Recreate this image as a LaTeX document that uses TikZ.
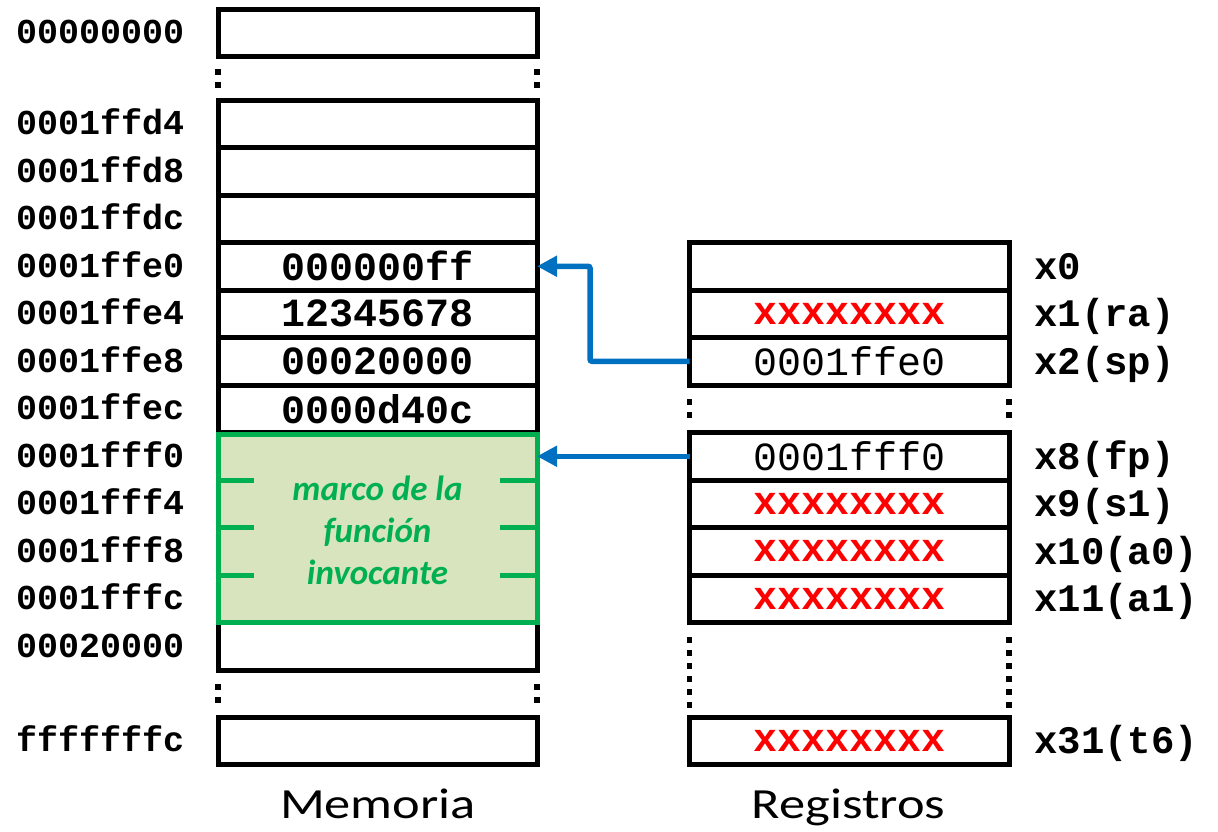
\documentclass[tikz,border=0pt]{standalone}
\usepackage{fontspec}
\setmainfont{Carlito}
\newfontfamily\monof{Liberation Mono}
\usetikzlibrary{arrows.meta,calc}
\definecolor{frgreen}{HTML}{00B050}
\definecolor{frfill}{HTML}{D7E4BD}
\definecolor{arblue}{HTML}{0070C0}
\definecolor{xred}{HTML}{FF0000}
\begin{document}
\begin{tikzpicture}[x=1pt,y=-1pt,
  memcell/.style={draw, line width=5pt, minimum width=319pt, minimum height=47.5pt, inner sep=0pt, outer sep=0pt},
  memslot/.style={minimum width=319pt, minimum height=47.5pt, inner sep=0pt, outer sep=0pt},
  regcell/.style={draw, line width=5pt, minimum width=319.5pt, minimum height=47.5pt, inner sep=0pt, outer sep=0pt},
  memval/.style={font=\monof\bfseries\fontsize{40}{48}\selectfont},
  regval/.style={font=\monof\fontsize{40}{48}\selectfont},
  xval/.style={font=\monof\bfseries\fontsize{40}{48}\selectfont, text=xred},
  addr/.style={anchor=base west, inner sep=0pt, font=\monof\bfseries\fontsize{35}{42}\selectfont},
  reglab/.style={anchor=base west, inner sep=0pt, font=\monof\bfseries\fontsize{39}{46}\selectfont},
  dots/.style={line width=5.5pt, dash pattern=on 6pt off 7pt},
  tick/.style={draw=frgreen, line width=5pt},
  pointer/.style={draw=arblue, line width=5.5pt, rounded corners=2pt, -{Triangle[length=20pt,width=20pt]}},
  title/.style={anchor=base, inner sep=0pt, font=\fontsize{43}{50}\selectfont}
]
\useasboundingbox (0,0) rectangle (1218,831);

% memory cells
\node[memcell] (m0) at (377.5,32.75) {};
\node[memcell] (ffd4) at (377.5,123.75) {};
\node[memcell] (ffd8) at (377.5,171.25) {};
\node[memcell] (ffdc) at (377.5,218.75) {};
\node[memcell,memval] (ffe0) at (377.5,266.25) {000000ff};
\node[memcell,memval] (ffe4) at (377.5,313.75) {12345678};
\node[memcell,memval] (ffe8) at (377.5,361.25) {00020000};
\node[memcell,memval] (ffec) at (377.5,408.75) {0000d40c};
\node[memslot] (fff0) at (377.5,456.25) {};
\node[memslot] (fff4) at (377.5,503.75) {};
\node[memslot] (fff8) at (377.5,551.25) {};
\node[memslot] (fffc) at (377.5,598.75) {};
\node[memcell] (m20000) at (377.5,646.25) {};
\node[memcell] (mlast) at (377.5,740.75) {};

% memory gaps
\draw[dots] ($(m0.south west)+(0,12.5)$) -- ($(ffd4.north west)+(0,-11)$);
\draw[dots] ($(m0.south east)+(0,12.5)$) -- ($(ffd4.north east)+(0,-11)$);
\draw[dots] ($(m20000.south west)+(0,14)$) -- ($(mlast.north west)+(0,-14)$);
\draw[dots] ($(m20000.south east)+(0,14)$) -- ($(mlast.north east)+(0,-14)$);

% caller frame
\draw[draw=frgreen, fill=frfill, line width=5pt] ($(fff0.north west)+(0,2)$) rectangle (fffc.south east);
\foreach \r in {fff0,fff4,fff8}{
  \draw[tick] (\r.south west) -- +(36,0);
  \draw[tick] (\r.south east) -- +(-37,0);
}
\node[align=center, text=frgreen, inner sep=0pt, font=\bfseries\itshape\fontsize{35}{42}\selectfont] (frtext) at (377.5,530) {marco de la\\funci\'on\\invocante};

% registers
\node[regcell] (x0) at (849.25,266.25) {};
\node[regcell,xval] (x1) at (849.25,313.75) {xxxxxxxx};
\node[regcell,regval] (x2) at (849.25,361.25) {0001ffe0};
\node[regcell,regval] (x8) at (849.25,456.25) {0001fff0};
\node[regcell,xval] (x9) at (849.25,503.75) {xxxxxxxx};
\node[regcell,xval] (x10) at (849.25,551.25) {xxxxxxxx};
\node[regcell,xval] (x11) at (849.25,598.75) {xxxxxxxx};
\node[regcell,xval] (x31) at (849.25,740.75) {xxxxxxxx};

\draw[dots] ($(x2.south west)+(0,14)$) -- ($(x8.north west)+(0,-14.5)$);
\draw[dots] ($(x2.south east)+(0,14)$) -- ($(x8.north east)+(0,-14.5)$);
\draw[dots] ($(x11.south west)+(0,14.5)$) -- ($(x31.north west)+(0,-9)$);
\draw[dots] ($(x11.south east)+(0,14.5)$) -- ($(x31.north east)+(0,-9)$);

% address labels
\node[addr] (a0) at (16,43.75) {00000000};
\node[addr] (a1) at (16,134.75) {0001ffd4};
\node[addr] (a2) at (16,182.25) {0001ffd8};
\node[addr] (a3) at (16,229.75) {0001ffdc};
\node[addr] (a4) at (16,277.25) {0001ffe0};
\node[addr] (a5) at (16,324.75) {0001ffe4};
\node[addr] (a6) at (16,372.25) {0001ffe8};
\node[addr] (a7) at (16,419.75) {0001ffec};
\node[addr] (a8) at (16,467.25) {0001fff0};
\node[addr] (a9) at (16,514.75) {0001fff4};
\node[addr] (a10) at (16,562.25) {0001fff8};
\node[addr] (a11) at (16,609.75) {0001fffc};
\node[addr] (a12) at (16,657.25) {00020000};
\node[addr] (a13) at (16,751.75) {fffffffc};

% register labels
\node[reglab] (l0) at (1034,279.25) {x0};
\node[reglab] (l1) at (1034,326.75) {x1(ra)};
\node[reglab] (l2) at (1034,374.25) {x2(sp)};
\node[reglab] (l8) at (1034,469.25) {x8(fp)};
\node[reglab] (l9) at (1034,516.75) {x9(s1)};
\node[reglab] (l10) at (1034,564.25) {x10(a0)};
\node[reglab] (l11) at (1034,611.75) {x11(a1)};
\node[reglab] (l31) at (1034,753.75) {x31(t6)};

% pointers
\coordinate (bend) at (590,0);
\draw[pointer] (x2.west) -- (x2.west -| bend) |- (ffe0.east);
\draw[pointer] (x8.west) -- (fff0.east);

% titles
\node[title] (tmem) at (378,818) {\scalebox{1.22}[1]{Memoria}};
\node[title] (treg) at (848.5,818) {\scalebox{1.22}[1]{Registros}};
\end{tikzpicture}
\end{document}
